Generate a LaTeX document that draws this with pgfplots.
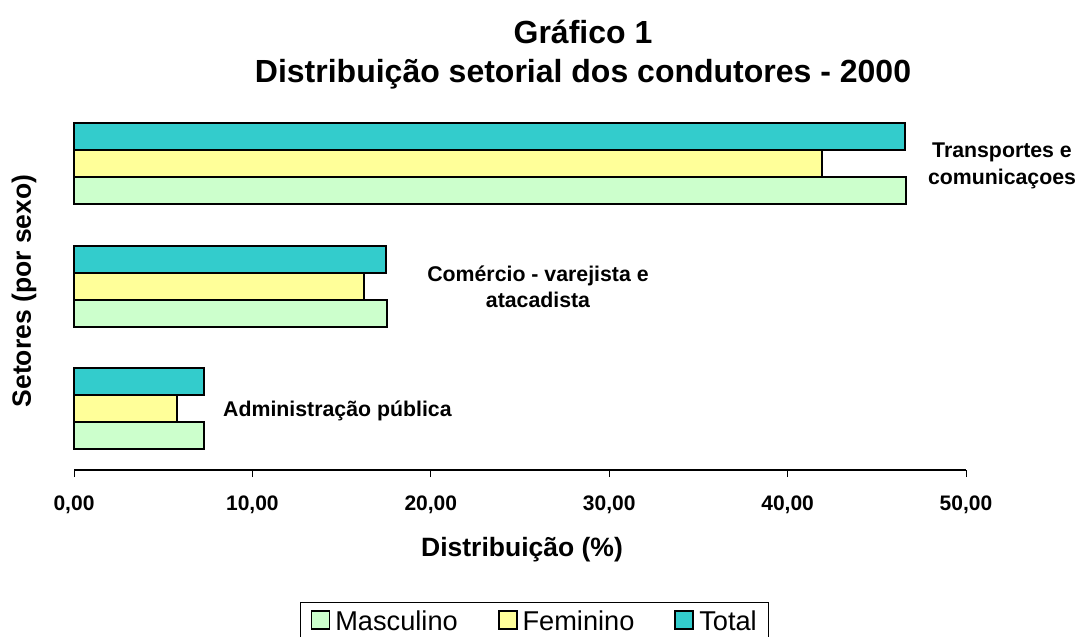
\documentclass[border=0pt]{standalone}
\usepackage{fontspec}
\setmainfont{Liberation Sans}
\usepackage{pgfplots}
\pgfplotsset{compat=1.18}
\definecolor{cTot}{HTML}{33CCCC}
\definecolor{cFem}{HTML}{FFFF99}
\definecolor{cMas}{HTML}{CCFFCC}
\begin{document}
\begin{tikzpicture}[x=1pt,y=1pt]
\useasboundingbox (0,0) rectangle (1079,637);
\begin{axis}[
  at={(74pt,167pt)}, anchor=south west,
  scale only axis, width=892pt, height=367.5pt,
  xmin=0, xmax=50, ymin=-0.5, ymax=2.5,
  axis x line=bottom, axis y line=none,
  axis line style={-, black, line width=1.5pt},
  xtick={0,10,20,30,40,50},
  xticklabels={{0,00},{10,00},{20,00},{30,00},{40,00},{50,00}},
  xtick align=outside,
  major tick length=7pt,
  tick style={black, line width=1pt},
  xticklabel style={font=\bfseries\fontsize{21}{25}\selectfont, inner sep=4pt, yshift=-15pt},
  ytick=\empty,
  xbar, bar width=27pt,
  clip=false,
  legend columns=3,
  legend style={at={(0.2534,-0.3592)}, anchor=north west, draw=black, line width=1pt,
    font=\fontsize{27.2}{30}\selectfont, inner xsep=10pt, inner ysep=6pt,
    /tikz/every odd column/.append style={column sep=3pt},
    /tikz/every even column/.append style={column sep=38pt}},
  legend image code/.code={\draw[#1,draw=black,line width=1.8pt] (0pt,-8pt) rectangle (18pt,10pt);},
]
\addplot[fill=cMas, draw=black, line width=2pt, bar shift=-27pt] coordinates {(7.30,0) (17.53,1) (46.65,2)};
\addplot[fill=cFem, draw=black, line width=2pt, bar shift=0pt] coordinates {(5.79,0) (16.24,1) (41.90,2)};
\addplot[fill=cTot, draw=black, line width=2pt, bar shift=27pt] coordinates {(7.30,0) (17.47,1) (46.60,2)};
\legend{Masculino,Feminino,Total}
\end{axis}
\node[font=\bfseries\fontsize{32}{38}\selectfont, anchor=base] at (583,593) {Gráfico 1};
\node[font=\bfseries\fontsize{32}{38}\selectfont, anchor=base] at (583,554) {Distribuição setorial dos condutores - 2000};
\node[font=\bfseries\fontsize{26.5}{30}\selectfont, anchor=base] at (522,80) {Distribuição (\%)};
\node[font=\bfseries\fontsize{26.5}{30}\selectfont, anchor=base, rotate=90] at (31,346) {Setores (por sexo)};
\node[font=\bfseries\fontsize{21.3}{27}\selectfont, anchor=base, align=center] at (1002,452) {Transportes e\\comunicaçoes};
\node[font=\bfseries\fontsize{21.3}{26}\selectfont, anchor=base, align=center] at (538,329) {Comércio - varejista e\\atacadista};
\node[font=\bfseries\fontsize{21.3}{26}\selectfont, anchor=base west, inner sep=0pt] at (223,220) {Administração pública};
\end{tikzpicture}
\end{document}
